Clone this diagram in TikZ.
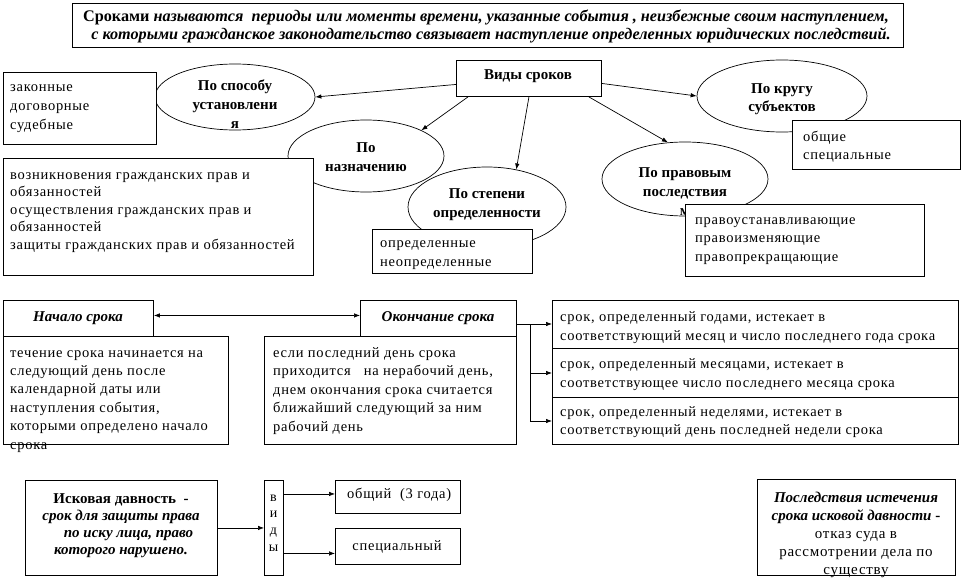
\documentclass[tikz,border=0pt]{standalone}
\usepackage{fontspec}
\setmainfont{Liberation Serif}
\newfontfamily\bodyf{Liberation Serif}[LetterSpace=5]
\usetikzlibrary{shapes.geometric,arrows.meta}
\newcommand\mylft[2]{\parbox[t]{#1}{\raggedright #2}}
\newcommand\myctr[2]{\parbox[t]{#1}{\centering #2}}
\begin{document}
\begin{tikzpicture}[x=1pt,y=-1pt,
 box/.style={draw, fill=white, line width=0.9pt, inner sep=0pt, anchor=north west},
 ell/.style={draw, ellipse, fill=white, line width=0.7pt, inner sep=0pt},
 tx/.style={anchor=base west, inner sep=0pt, font=\bodyf\fontsize{14.5}{18.5}\selectfont},
 tb/.style={anchor=base, inner sep=0pt, font=\bfseries\fontsize{15}{19}\selectfont},
 tbi/.style={anchor=base, inner sep=0pt, font=\bfseries\itshape\fontsize{15}{19}\selectfont},
 arr/.style={-{Latex[length=6pt,width=4.5pt]}, line width=0.7pt},
 ln/.style={line width=0.7pt}]
\useasboundingbox (0,0) rectangle (962,578);
\fill[white] (0,0) rectangle (962,578);

% title
\node[box, minimum width=831pt, minimum height=44pt] (title) at (72,3) {};
\node[tbi, font=\bfseries\itshape\fontsize{16.2}{18}\selectfont] (tt1) at (486,22) {{\upshape Сроками} называются\ \ периоды или моменты времени, указанные события , неизбежные своим наступлением,};
\node[tbi, font=\bfseries\itshape\fontsize{16.2}{18}\selectfont] (tt2) at (491,40) {с которыми гражданское законодательство связывает наступление определенных юридических последствий.};

% Виды сроков
\node[box, minimum width=145pt, minimum height=36pt] (vid) at (456,60) {};
\node[tb] (tvid) at (528,80) {Виды сроков};

% ellipses
\node[ell, minimum width=160pt, minimum height=66pt] (spos) at (235,97) {};
\node[tb] (tspos) at (235,91) {\myctr{100pt}{По способу\\установлени\\я}};
\node[ell, minimum width=156pt, minimum height=72pt] (naz) at (366,156) {};
\node[tb] (tnaz) at (366,152) {\myctr{100pt}{По\\назначению}};
\node[ell, minimum width=158pt, minimum height=80pt] (step) at (487,207) {};
\node[tb] (tstep) at (487,198) {\myctr{140pt}{По степени\\определенности}};
\node[ell, minimum width=166pt, minimum height=74pt] (prav) at (685,179) {};
\node[tb] (tprav) at (685,177) {\myctr{120pt}{По правовым\\последствия\\м}};
\node[ell, minimum width=170pt, minimum height=72pt] (krug) at (782,96) {};
\node[tb] (tkrug) at (782,93) {\myctr{120pt}{По кругу\\субъектов}};

% boxes of the classification
\node[box, minimum width=153pt, minimum height=72pt] (zak) at (3,72) {};
\node[tx, font=\bodyf\fontsize{14.5}{19}\selectfont] (tzak) at (10,92) {\mylft{140pt}{законные\\договорные\\судебные}};
\node[box, minimum width=310pt, minimum height=117pt] (voz) at (3,158) {};
\node[tx, font=\bodyf\fontsize{14.5}{17.6}\selectfont] (tvoz) at (10,179) {\mylft{300pt}{возникновения гражданских прав и\\обязанностей\\осуществления гражданских прав и\\обязанностей\\защиты гражданских прав и обязанностей}};
\node[box, minimum width=160pt, minimum height=44pt] (opr) at (372,229) {};
\node[tx, font=\bodyf\fontsize{14.5}{19.5}\selectfont] (topr) at (380,247) {\mylft{150pt}{определенные\\неопределенные}};
\node[box, minimum width=239pt, minimum height=72pt] (pry) at (685,204) {};
\node[tx, font=\bodyf\fontsize{14.5}{18.5}\selectfont] (tpry) at (695,224) {\mylft{220pt}{правоустанавливающие\\правоизменяющие\\правопрекращающие}};
\node[box, minimum width=168pt, minimum height=49pt] (obs) at (792,120) {};
\node[tx, font=\bodyf\fontsize{14.5}{18.5}\selectfont] (tobs) at (803,141) {\mylft{150pt}{общие\\специальные}};

% arrows from Виды сроков
\draw[arr] ([yshift=-6pt]vid.west) -- (spos.east);
\draw[arr] ([xshift=12pt]vid.south west) -- (naz.north east);
\draw[arr] (vid.south) -- (step.52);
\draw[arr] ([xshift=-13pt]vid.south east) -- (prav.115);
\draw[arr] ([yshift=-5pt]vid.east) -- (krug.west);

% начало / окончание
\node[box, minimum width=150pt, minimum height=36pt] (nach) at (3,300) {};
\node[tbi] (tnach) at (78,321) {Начало срока};
\node[box, minimum width=225pt, minimum height=108pt] (nacht) at (3,336) {};
\node[tx, font=\bodyf\fontsize{14.5}{18.4}\selectfont] (tnacht) at (10,357) {\mylft{215pt}{течение срока начинается на\\следующий день после\\календарной даты или\\наступления события,\\которыми определено начало\\срока}};
\node[box, minimum width=156pt, minimum height=36pt] (okon) at (360,300) {};
\node[tbi] (tokon) at (438,321) {Окончание срока};
\node[box, minimum width=252pt, minimum height=108pt] (okont) at (264,336) {};
\node[tx, font=\bodyf\fontsize{14.5}{18.5}\selectfont] (tokont) at (273,357) {\mylft{240pt}{если последний день срока\\приходится\ \ \ на нерабочий день,\\днем окончания срока считается\\ближайший следующий за ним\\рабочий день}};
\draw[arr, {Latex[length=6pt,width=4.5pt]}-{Latex[length=6pt,width=4.5pt]}] ([yshift=3pt]nach.east) -- ([yshift=3pt]okon.west);

\node[box, minimum width=406pt, minimum height=48pt] (r1) at (552,300) {};
\node[box, minimum width=406pt, minimum height=49pt] (r2) at (552,348) {};
\node[box, minimum width=406pt, minimum height=47pt] (r3) at (552,397) {};
\node[tx, font=\bodyf\fontsize{14.5}{19}\selectfont] (tr1) at (560,321) {\mylft{400pt}{срок, определенный годами, истекает в\\соответствующий месяц и число последнего года срока}};
\node[tx, font=\bodyf\fontsize{14.5}{19}\selectfont] (tr2) at (560,368) {\mylft{400pt}{срок, определенный месяцами, истекает в\\соответствующее число последнего месяца срока}};
\node[tx, font=\bodyf\fontsize{14.5}{18.5}\selectfont] (tr3) at (560,416) {\mylft{400pt}{срок, определенный неделями, истекает в\\соответствующий день последней недели срока}};
\coordinate (jn) at (530,324);
\coordinate (jm) at (530,373);
\coordinate (jb) at (530,421);
\draw[ln] (okon.east |- jn) -- (jn);
\draw[ln] (jn) -- (jb);
\draw[arr] (jn) -- (r1.west |- jn);
\draw[arr] (jm) -- (r2.west |- jm);
\draw[arr] (jb) -- (r3.west |- jb);

% исковая давность
\node[box, minimum width=192pt, minimum height=95pt] (isk) at (25,480) {};
\node[tb, font=\bfseries\fontsize{15}{17.3}\selectfont] (tisk) at (121,503) {\myctr{190pt}{Исковая давность \ -\\{\itshape срок для защиты права\\\ \ \ \ по иску лица, право\\которого нарушено.}}};
\node[box, minimum width=19pt, minimum height=95pt] (vidy) at (264,480) {};
\node[tx, anchor=base, font=\bodyf\fontsize{14}{16.7}\selectfont] (tvidy) at (273.5,501) {\myctr{15pt}{в\\и\\д\\ы}};
\node[box, minimum width=125pt, minimum height=33pt] (obsh) at (335,480) {};
\node[tx] (tobsh) at (347,498) {общий\ \ (3 года)};
\node[box, minimum width=125pt, minimum height=36pt] (spec) at (335,528) {};
\node[tx, anchor=base] (tspec) at (397,550) {специальный};
\draw[arr] (isk.east) -- (isk.east -| vidy.west);
\draw[arr] ([yshift=3pt]vidy.east |- obsh.west) -- ([yshift=3pt]obsh.west);
\draw[arr] ([yshift=-7pt]vidy.east |- spec.west) -- ([yshift=-7pt]spec.west);

% последствия
\node[box, minimum width=198pt, minimum height=96pt] (posl) at (757,479) {};
\node[tbi, font=\bfseries\itshape\fontsize{15}{18}\selectfont] (tposl) at (856,502) {\myctr{198pt}{Последствия истечения\\срока исковой давности {\upshape -}\\{\mdseries\upshape\bodyf отказ суда в\\рассмотрении дела по\\существу}}};
\end{tikzpicture}
\end{document}
